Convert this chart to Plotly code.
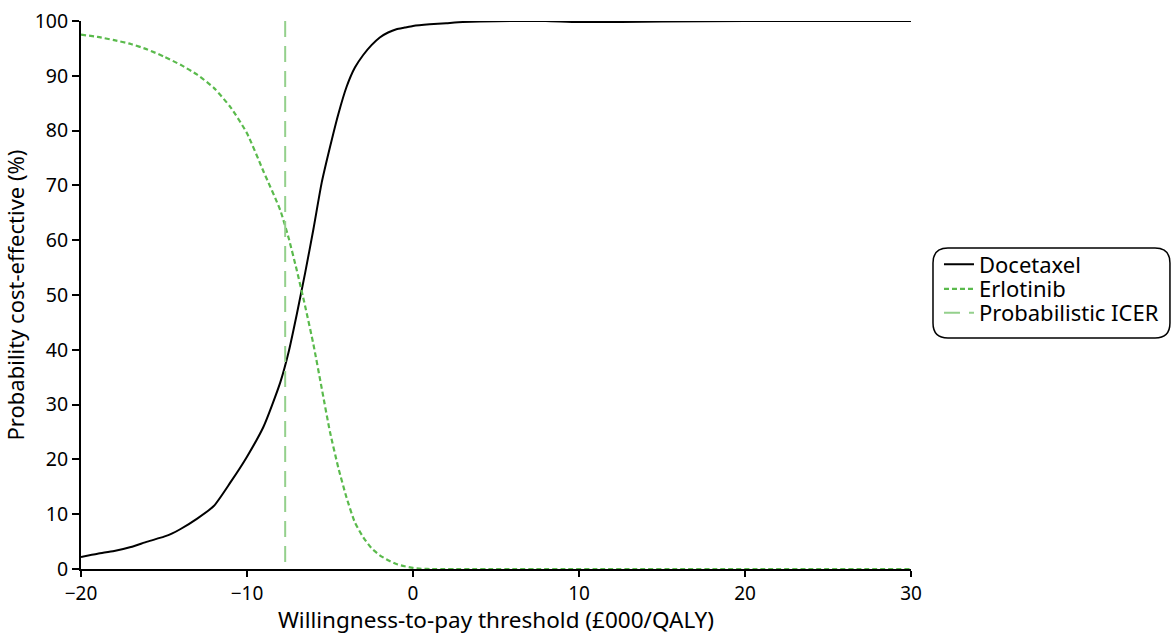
import plotly.graph_objects as go

# Willingness-to-pay thresholds (£000/QALY)
doc_x = [-20, -19, -18, -17, -16, -15, -14.5, -14, -13, -12, -11, -10, -9, -8, -7.5, -7,
         -6.5, -6, -5.5, -5, -4.5, -4, -3.5, -3, -2.5, -2, -1.5, -1, -0.5, 0, 1, 2, 3, 4,
         6, 8, 10, 15, 20, 30]
doc_y = [2.2, 2.8, 3.3, 4.0, 5.0, 5.9, 6.5, 7.3, 9.2, 11.5, 15.8, 20.5, 26.0, 34.0, 39.5, 46.5,
         54.0, 62.0, 70.5, 77.0, 83.0, 88.0, 91.5, 93.8, 95.6, 97.0, 97.9, 98.5, 98.8, 99.1, 99.4,
         99.6, 99.8, 99.9, 100, 100, 99.8, 99.9, 100, 100]

erl_x = [-20, -19, -18, -17, -16, -15, -14, -13, -12, -11, -10, -9, -8, -7.5, -7, -6.5, -6,
         -5.5, -5, -4.5, -4, -3.5, -3, -2.5, -2, -1.5, -1, -0.5, 0, 0.5, 1, 30]
erl_y = [97.5, 97.1, 96.5, 95.8, 94.8, 93.5, 92.0, 90.2, 87.8, 84.3, 79.5, 72.5, 65.5, 60.5,
         54.5, 48.0, 41.0, 33.0, 25.0, 18.5, 13.0, 8.5, 5.8, 3.8, 2.5, 1.6, 0.9, 0.5, 0.2, 0.05,
         0, 0]

icer_x = [-7.7, -7.7]
icer_y = [100, 0]

x_ticks = [-20, -10, 0, 10, 20, 30]
x_tick_labels = ["\u221220", "\u221210", "0", "10", "20", "30"]
y_ticks = [0, 10, 20, 30, 40, 50, 60, 70, 80, 90, 100]

FONT = "Noto Sans"

fig = go.Figure()
fig.add_trace(go.Scatter(x=doc_x, y=doc_y, mode="lines", name="Docetaxel", legend="legend",
                         line=dict(color="black", width=2, shape="spline", smoothing=0.6)))
fig.add_trace(go.Scatter(x=erl_x, y=erl_y, mode="lines", name="Erlotinib", legend="legend2",
                         line=dict(color="#5aba4c", width=2.2, dash="5px,3px",
                                   shape="spline", smoothing=0.6)))
fig.add_trace(go.Scatter(x=icer_x, y=icer_y, mode="lines", name="Probabilistic ICER",
                         legend="legend3",
                         line=dict(color="#94d08c", width=2, dash="16px,9px")))

leg_common = dict(x=0.8005, xref="container", yref="container",
                  xanchor="left", yanchor="middle",
                  bgcolor="rgba(0,0,0,0)", borderwidth=0,
                  font=dict(family=FONT, size=22, color="black"))

fig.update_layout(
    width=1173, height=635,
    margin=dict(l=81, r=262, t=21, b=66),
    paper_bgcolor="white", plot_bgcolor="white",
    font=dict(family=FONT, size=19, color="black"),
    showlegend=True,
    legend=dict(y=1 - 264.5 / 635, **leg_common),
    legend2=dict(y=1 - 289 / 635, **leg_common),
    legend3=dict(y=1 - 313 / 635, **leg_common),
    xaxis=dict(range=[-20, 30], tickvals=x_ticks, ticktext=x_tick_labels,
               showline=True, linecolor="black", linewidth=2,
               ticks="outside", ticklen=6, tickwidth=1.5, tickcolor="black",
               tickfont=dict(family=FONT, size=19, color="black"),
               showgrid=False, zeroline=False, automargin=False,
               title=dict(text="Willingness-to-pay threshold (£000/QALY)", standoff=4,
                          font=dict(family=FONT, size=22.5, color="black"))),
    yaxis=dict(range=[0, 100], tickvals=y_ticks,
               showline=True, linecolor="black", linewidth=2,
               ticks="outside", ticklen=7, tickwidth=1.5, tickcolor="black",
               tickfont=dict(family=FONT, size=19.5, color="black"),
               showgrid=False, zeroline=False, automargin=False,
               title=dict(text="Probability cost-effective (%)", standoff=8,
                          font=dict(family=FONT, size=22, color="black"))),
)

# rounded legend frame
x0, x1, y0, y1, r = 1.0265, 1.312, 0.4215, 0.5858, 0.018
ry = r * 830 / 548
path = (f"M {x0 + r},{y1} L {x1 - r},{y1} Q {x1},{y1} {x1},{y1 - ry} "
        f"L {x1},{y0 + ry} Q {x1},{y0} {x1 - r},{y0} L {x0 + r},{y0} "
        f"Q {x0},{y0} {x0},{y0 + ry} L {x0},{y1 - ry} Q {x0},{y1} {x0 + r},{y1} Z")
fig.add_shape(type="path", path=path, xref="paper", yref="paper",
              line=dict(color="black", width=1.5))

fig.write_html("out.html")
